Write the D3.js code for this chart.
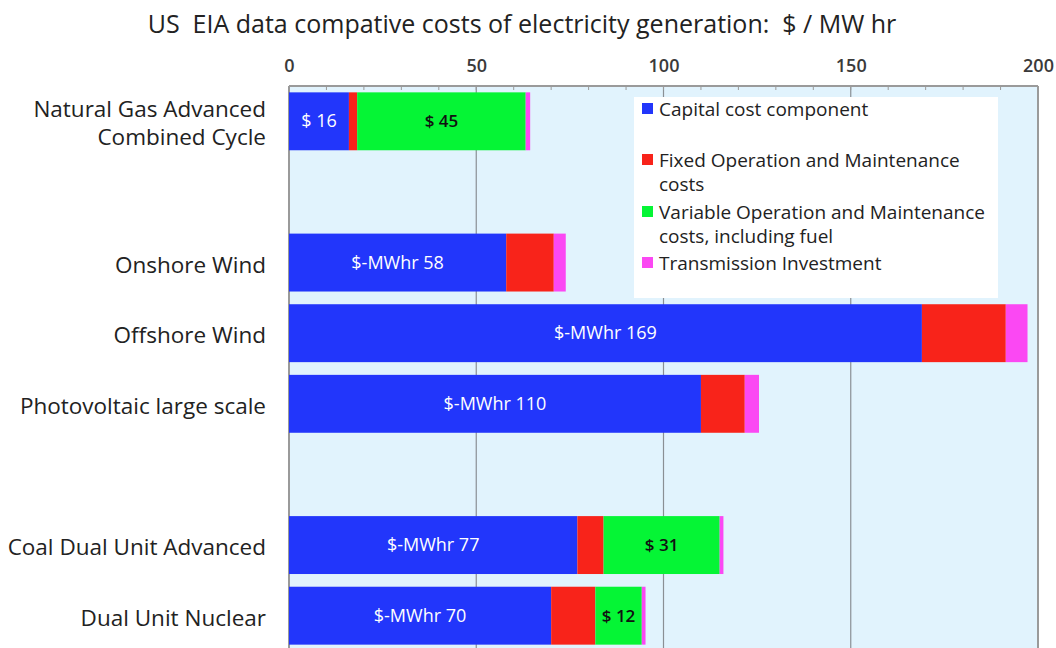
<!DOCTYPE html>
<html>
<head>
<meta charset="utf-8">
<script src="https://cdn.jsdelivr.net/npm/d3@7"></script>
<style>
  body { margin: 0; background: #fff; }
  svg { font-family: 'Open Sans', sans-serif; }
</style>
</head>
<body>
<div id="chart"></div>
<script>
// EIA cost components, $ / MWh
const categories = ['Natural Gas Advanced|Combined Cycle', 'Onshore Wind', 'Offshore Wind',
  'Photovoltaic large scale', 'Coal Dual Unit Advanced', 'Dual Unit Nuclear']
const capital = [16, 58, 169, 110, 77, 70]
const fixedOM = [2.2, 12.7, 22.4, 11.7, 7, 11.8]
const variableOM = [45, 0, 0, 0, 31, 12.4]
const transmission = [1.2, 3.2, 5.8, 3.8, 1, 1]
const capitalPrefix = ['$ ', '$-MWhr ', '$-MWhr ', '$-MWhr ', '$-MWhr ', '$-MWhr ']
// rows of the chart, with two empty slots
const rows = [categories[0], 'gap1', categories[1], categories[2], categories[3], 'gap2', categories[4], categories[5]]
const xTicks = [0, 50, 100, 150, 200]

const seriesKeys = ['capital', 'fixedOM', 'variableOM', 'transmission']
const seriesNames = ['Capital cost component', 'Fixed Operation and Maintenance|costs',
  'Variable Operation and Maintenance|costs, including fuel', 'Transmission Investment']
const colors = ['#2236fb', '#f8231a', '#05f535', '#fb48f3']

;(function() {
const width = 1056, height = 648
const plotLeft = 289, plotRight = 1038, plotTop = 86

const svg = d3.select('#chart').append('svg')
  .attr('width', width)
  .attr('height', height)

const x = d3.scaleLinear().domain([0, 200]).range([plotLeft, plotRight])
const y = d3.scaleBand().domain(rows).range([plotTop, 651]).paddingInner(0.18).paddingOuter(0.09)

const table = categories.map(function(c, i) {
  return { name: c, capital: capital[i], fixedOM: fixedOM[i], variableOM: variableOM[i], transmission: transmission[i], i: i }
})
const stacked = d3.stack().keys(seriesKeys)(table)

// title
svg.append('text')
  .attr('x', 522).attr('y', 33)
  .attr('text-anchor', 'middle')
  .style('font-size', '25px')
  .style('white-space', 'pre')
  .style('fill', '#222')
  .text('US  EIA data compative costs of electricity generation:  $ / MW hr')

// plot background
svg.append('rect')
  .attr('x', plotLeft).attr('y', plotTop)
  .attr('width', plotRight - plotLeft).attr('height', height - plotTop + 5)
  .attr('fill', '#e1f3fd')

// gridlines
svg.selectAll('.grid')
  .data([50, 100, 150])
  .enter().append('line')
  .attr('class', 'grid')
  .attr('x1', d => x(d)).attr('x2', d => x(d))
  .attr('y1', plotTop).attr('y2', height)
  .attr('stroke', '#8a8f94')
  .attr('stroke-width', 1.2)

// border
svg.append('line').attr('x1', plotLeft).attr('x2', plotRight).attr('y1', plotTop).attr('y2', plotTop)
  .attr('stroke', '#9a9a9a').attr('stroke-width', 2)
svg.append('line').attr('x1', plotLeft).attr('x2', plotLeft).attr('y1', plotTop).attr('y2', height)
  .attr('stroke', '#9a9a9a').attr('stroke-width', 2)
svg.append('line').attr('x1', plotRight).attr('x2', plotRight).attr('y1', plotTop).attr('y2', height)
  .attr('stroke', '#9a9a9a').attr('stroke-width', 2)

// top axis
const axis = svg.append('g')
  .attr('transform', 'translate(0,' + plotTop + ')')
  .call(d3.axisTop(x).tickValues(xTicks).tickSize(0).tickPadding(14))
axis.select('.domain').remove()
axis.selectAll('text')
  .style('font-size', '18px')
  .style('font-weight', '600')
  .style('fill', '#3a3a3a')
  .style('font-family', "'Open Sans', sans-serif")

// minor ticks on top border
svg.selectAll('.minor')
  .data(d3.range(10, 200, 10))
  .enter().append('line')
  .attr('x1', d => x(d)).attr('x2', d => x(d))
  .attr('y1', plotTop).attr('y2', plotTop + 4)
  .attr('stroke', '#9a9a9a')

// stacked bars
const layers = svg.selectAll('.layer')
  .data(stacked)
  .enter().append('g')
  .attr('fill', (d, i) => colors[i])

layers.selectAll('rect')
  .data(d => d)
  .enter().append('rect')
  .attr('x', d => x(d[0]))
  .attr('width', d => x(d[1]) - x(d[0]))
  .attr('y', d => y(d.data.name))
  .attr('height', y.bandwidth())

// capital labels
svg.selectAll('.capLabel')
  .data(table)
  .enter().append('text')
  .attr('x', d => x(d.capital / 2))
  .attr('y', d => y(d.name) + y.bandwidth() / 2 + 6)
  .attr('text-anchor', 'middle')
  .style('font-size', '18px')
  .style('fill', '#fff')
  .text(d => capitalPrefix[d.i] + d.capital)

// variable O&M labels
svg.selectAll('.varLabel')
  .data(table.filter(d => d.variableOM > 0))
  .enter().append('text')
  .attr('x', d => x(d.capital + d.fixedOM + d.variableOM / 2))
  .attr('y', d => y(d.name) + y.bandwidth() / 2 + 6)
  .attr('text-anchor', 'middle')
  .style('font-size', '17px')
  .style('font-weight', '600')
  .style('fill', '#111')
  .text(d => '$ ' + Math.round(d.variableOM))

// category labels
svg.selectAll('.catLabel')
  .data(table)
  .enter().append('text')
  .attr('text-anchor', 'end')
  .style('font-size', '22.5px')
  .style('fill', '#222')
  .each(function(d) {
    const lines = d.name.split('|')
    const cy = y(d.name) + y.bandwidth() / 2
    d3.select(this).selectAll('tspan')
      .data(lines)
      .enter().append('tspan')
      .attr('x', 266)
      .attr('y', (l, k) => cy + 10 + (k - (lines.length - 1) / 2) * 28)
      .text(l => l)
  })

// legend
svg.append('rect')
  .attr('x', 634).attr('y', 97)
  .attr('width', 364).attr('height', 201)
  .attr('fill', '#fff')
const legend = svg.append('g')
const legendY = [103, 154, 206, 257]
seriesNames.forEach(function(name, i) {
  legend.append('rect')
    .attr('x', 642).attr('y', legendY[i])
    .attr('width', 11).attr('height', 11)
    .attr('fill', colors[i])
  const t = legend.append('text')
    .style('font-size', '19px')
    .style('fill', '#222')
  name.split('|').forEach(function(l, k) {
    t.append('tspan').attr('x', 659).attr('y', legendY[i] + 13 + k * 24).text(l)
  })
})
})()
</script>
</body>
</html>
